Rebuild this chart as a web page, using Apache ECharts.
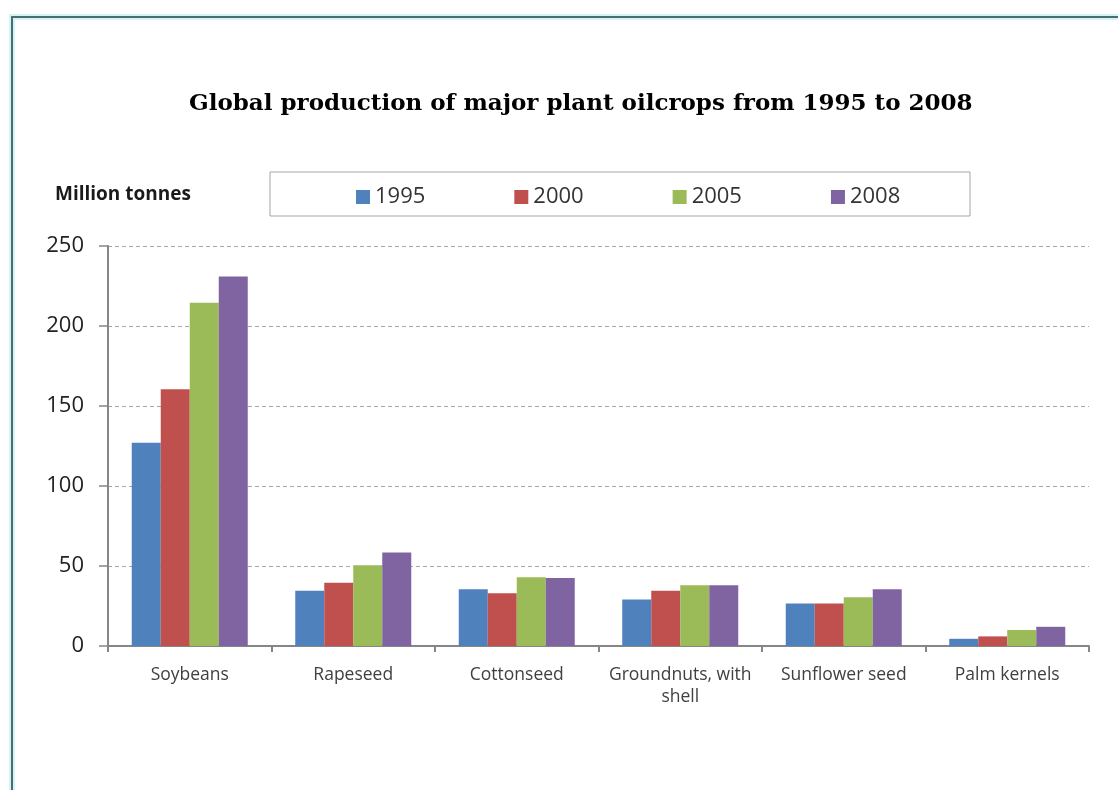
<!DOCTYPE html>
<html>
<head>
<meta charset="utf-8">
<script src="https://cdn.jsdelivr.net/npm/echarts@6/dist/echarts.min.js"></script>
<style>
html,body{margin:0;padding:0;background:#fff;}
#chart{width:1118px;height:790px;}
</style>
</head>
<body>
<div id="chart"></div>
<script>
const categories = ['Soybeans', 'Rapeseed', 'Cottonseed', 'Groundnuts, with\nshell', 'Sunflower seed', 'Palm kernels'];
const seriesNames = ['1995', '2000', '2005', '2008'];
const v1995 = [127, 34.5, 35.5, 29, 26.5, 4.5];
const v2000 = [160.5, 39.5, 33, 34.5, 26.5, 6];
const v2005 = [214.5, 50.5, 43, 38, 30.5, 10];
const v2008 = [231, 58.5, 42.5, 38, 35.5, 12];
const yTicks = [0, 50, 100, 150, 200, 250];
const colors = ['#4f81bd', '#c0504d', '#9bbb59', '#8064a2'];
const values = [v1995, v2000, v2005, v2008];

const chart = echarts.init(document.getElementById('chart'), null, {renderer: 'canvas'});
const option = {
  backgroundColor: '#ffffff',
  animation: false,
  title: {
    text: 'Global production of major plant oilcrops from 1995 to 2008',
    left: 184,
    top: 88,
    textStyle: {fontFamily: 'DejaVu Serif', fontWeight: 'bold', fontSize: 23, color: '#000'}
  },
  graphic: [
    {type: 'rect', shape: {x: 12, y: 17, width: 1200, height: 900}, style: {fill: 'none', stroke: '#d2f4f4', lineWidth: 6}, silent: true},
    {type: 'rect', shape: {x: 12, y: 17, width: 1200, height: 900}, style: {fill: 'none', stroke: '#4d6c72', lineWidth: 2}, silent: true},
    {type: 'rect', shape: {x: 270, y: 172, width: 700, height: 44}, style: {fill: 'none', stroke: '#a6a6a6', lineWidth: 1}, silent: true},
    {type: 'text', left: 55, top: 185, style: {text: 'Million tonnes', font: 'bold 19px "Open Sans"', fill: '#1a1a1a'}, silent: true}
  ],
  legend: {
    data: seriesNames,
    left: 351,
    top: 181,
    itemWidth: 14,
    itemHeight: 14,
    itemGap: 89,
    icon: 'rect',
    textStyle: {fontFamily: 'Open Sans', fontSize: 22, color: '#333'}
  },
  grid: {left: 108, right: 29, top: 246, bottom: 144, containLabel: false},
  xAxis: {
    type: 'category',
    data: categories,
    axisLine: {lineStyle: {color: '#868686', width: 2}},
    axisTick: {show: true, length: 6, lineStyle: {color: '#868686', width: 2}},
    axisLabel: {fontFamily: 'Open Sans', fontSize: 17.5, color: '#404040', margin: 18, lineHeight: 22, interval: 0}
  },
  yAxis: {
    type: 'value',
    min: 0,
    max: 250,
    interval: 50,
    axisLine: {show: true, lineStyle: {color: '#868686', width: 2}},
    axisTick: {show: true, length: 9, lineStyle: {color: '#868686', width: 1.5}},
    axisLabel: {fontFamily: 'Open Sans', fontSize: 22, color: '#222', margin: 24,
      formatter: function (v) { return yTicks.indexOf(v) >= 0 ? String(v) : ''; }},
    splitLine: {show: true, lineStyle: {color: '#a8a8a8', type: [4, 3], width: 1}}
  },
  series: seriesNames.map((n, i) => ({
    name: n,
    type: 'bar',
    data: values[i],
    barWidth: 29,
    barGap: '0%',
    itemStyle: {color: colors[i]}
  }))
};
chart.setOption(option);
</script>
</body>
</html>
